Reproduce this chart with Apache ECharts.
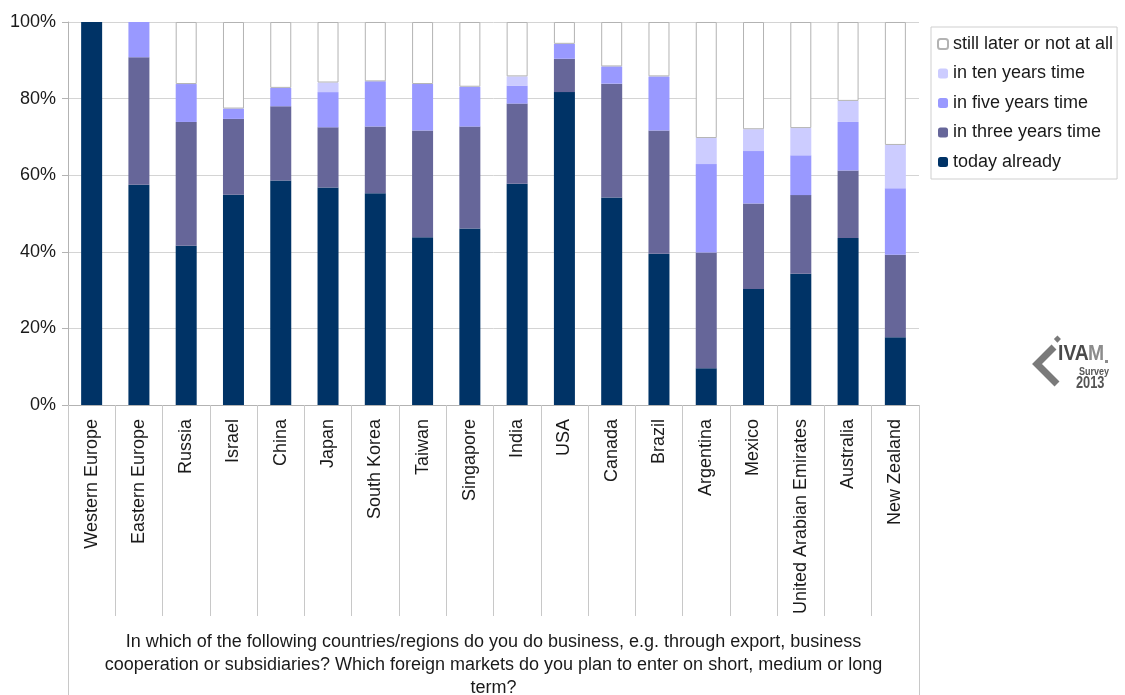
<!DOCTYPE html>
<html>
<head>
<meta charset="utf-8">
<script src="https://cdn.jsdelivr.net/npm/echarts@6/dist/echarts.min.js"></script>
<style>
  html, body { margin: 0; padding: 0; background: #ffffff; }
  #chart { width: 1125px; height: 695px; }
</style>
</head>
<body>
<div id="chart"></div>
<script>
// Markets: share of companies doing business there now, or planning to
const categories = ['Western Europe', 'Eastern Europe', 'Russia', 'Israel', 'China', 'Japan',
  'South Korea', 'Taiwan', 'Singapore', 'India', 'USA', 'Canada', 'Brazil', 'Argentina',
  'Mexico', 'United Arabian Emirates', 'Australia', 'New Zealand'];

const todayAlready   = [100, 57.5, 41.6, 54.9, 58.6, 56.8, 55.3, 43.8, 46.1, 57.8, 81.7, 54.2, 39.5, 9.6, 30.3, 34.3, 43.6, 17.7];
const inThreeYears   = [0, 33.3, 32.3, 19.8, 19.4, 15.7, 17.4, 27.9, 26.6, 20.9, 8.7, 29.7, 32.2, 30.2, 22.3, 20.5, 17.6, 21.5];
const inFiveYears    = [0, 9.2, 9.9, 2.7, 4.8, 9.2, 11.8, 12.1, 10.4, 4.7, 3.9, 4.5, 14.1, 23.1, 13.7, 10.4, 12.7, 17.4];
const inTenYears     = [0, 0, 0, 0, 0, 2.5, 0, 0, 0, 2.4, 0, 0, 0, 6.8, 5.7, 7.1, 5.5, 11.3];
const stillLater     = [0, 0, 16.2, 22.6, 17.2, 15.8, 15.5, 16.2, 16.9, 14.2, 5.7, 11.6, 14.2, 30.3, 28.0, 27.7, 20.6, 32.1];

const yTicks = [0, 20, 40, 60, 80, 100];

const axisTitle = 'In which of the following countries/regions do you do business, e.g. through export, business\n' +
  'cooperation or subsidiaries? Which foreign markets do you plan to enter on short, medium or long\n' +
  'term?';

const FONT = '"Liberation Sans", Arial, sans-serif';
const GRID = { left: 68, right: 206, top: 22, bottom: 290 };
const W = 1125, H = 695;

const chart = echarts.init(document.getElementById('chart'), null, { renderer: 'canvas' });

// empty segments get no outline so nothing is drawn for a zero share
function withOutline(values) {
  return values.map(function (v) {
    return v > 0 ? { value: v } : { value: v, itemStyle: { borderWidth: 0 } };
  });
}

function bar(name, data, style) {
  return {
    name: name,
    type: 'bar',
    stack: 'total',
    data: withOutline(data),
    barWidth: 21,
    itemStyle: style,
    emphasis: { disabled: true }
  };
}

chart.setOption({
  animation: false,
  backgroundColor: '#ffffff',
  textStyle: { fontFamily: FONT },
  grid: Object.assign({ outerBoundsMode: 'none', containLabel: false }, GRID),
  legend: {
    orient: 'vertical',
    left: 931,
    top: 27,
    padding: [8, 4, 8, 6],
    itemWidth: 10,
    itemHeight: 10,
    itemGap: 11.5,
    borderColor: '#cfcfcf',
    borderWidth: 1,
    textStyle: { fontFamily: FONT, fontSize: 18, color: '#1a1a1a', lineHeight: 17.5 },
    data: ['still later or not at all', 'in ten years time', 'in five years time',
      'in three years time', 'today already']
  },
  xAxis: {
    type: 'category',
    data: categories,
    axisLine: { show: true, lineStyle: { color: '#b3b3b3', width: 1 } },
    axisTick: { show: true, interval: 0, length: 211, lineStyle: { color: '#c8c8c8', width: 1 } },
    axisLabel: {
      interval: 0, rotate: 90, margin: 14,
      fontFamily: FONT, fontSize: 18, color: '#1a1a1a'
    },
    name: axisTitle,
    nameLocation: 'middle',
    nameGap: 226,
    nameTextStyle: { fontFamily: FONT, fontSize: 18, color: '#1a1a1a', lineHeight: 23, align: 'center' }
  },
  yAxis: {
    type: 'value',
    min: 0,
    max: 100,
    interval: 20,
    axisLine: { show: true, lineStyle: { color: '#b3b3b3', width: 1 } },
    axisTick: { show: true, inside: false, length: 6, lineStyle: { color: '#b3b3b3' } },
    splitLine: { show: true, lineStyle: { color: '#d4d4d4', width: 1 } },
    axisLabel: {
      margin: 12, fontFamily: FONT, fontSize: 18, color: '#1a1a1a',
      formatter: function (v) { return yTicks.indexOf(v) >= 0 ? v + '%' : ''; }
    }
  },
  series: [
    bar('today already', todayAlready, { color: '#003366' }),
    bar('in three years time', inThreeYears, { color: '#666699' }),
    bar('in five years time', inFiveYears, { color: '#9999ff' }),
    bar('in ten years time', inTenYears, { color: '#ccccff' }),
    bar('still later or not at all', stillLater, { color: '#ffffff', borderColor: '#b3b3b3', borderWidth: 1 })
  ],
  graphic: [
    // frame lines around the category/title band below the plot
    { type: 'line', silent: true, shape: { x1: GRID.left + 0.5, y1: H - GRID.bottom, x2: GRID.left + 0.5, y2: H },
      style: { stroke: '#c8c8c8', lineWidth: 1 } },
    { type: 'line', silent: true, shape: { x1: W - GRID.right + 0.5, y1: H - GRID.bottom, x2: W - GRID.right + 0.5, y2: H },
      style: { stroke: '#c8c8c8', lineWidth: 1 } },
    // survey logo
    { type: 'group', x: 0, y: 0, silent: true, children: [
      { type: 'polyline', shape: { points: [[1054, 347], [1037, 364], [1057, 384]] },
        style: { stroke: '#7a7a7a', lineWidth: 7, fill: null, lineJoin: 'miter' } },
      { type: 'rect', x: 1056, y: 337, rotation: Math.PI / 4, shape: { x: -3, y: 0, width: 5, height: 5 },
        style: { fill: '#7a7a7a' } },
      { type: 'text', x: 1058, y: 343, scaleX: 0.88,
        style: { text: 'IVA', font: 'bold 22px ' + FONT, fill: '#4a4a4a' } },
      { type: 'text', x: 1088, y: 343, scaleX: 0.88,
        style: { text: 'M', font: 'bold 22px ' + FONT, fill: '#8c8c8c' } },
      { type: 'rect', shape: { x: 1105, y: 360, width: 3, height: 3 }, style: { fill: '#8c8c8c' } },
      { type: 'text', x: 1079, y: 367, scaleX: 0.9,
        style: { text: 'Survey', font: 'bold 10px ' + FONT, fill: '#555555' } },
      { type: 'text', x: 1076, y: 376, scaleX: 0.8,
        style: { text: '2013', font: 'bold 16px ' + FONT, fill: '#555555' } }
    ] }
  ]
});
</script>
</body>
</html>
